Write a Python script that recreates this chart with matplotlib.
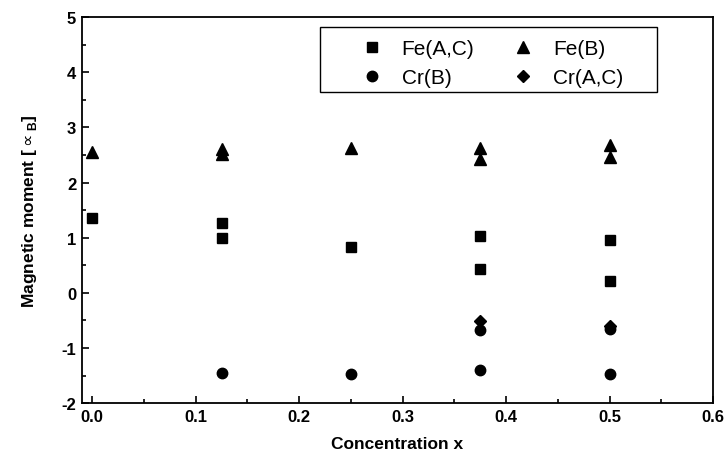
import matplotlib.pyplot as plt
from matplotlib.patches import Rectangle
from matplotlib.ticker import MultipleLocator

plt.rcParams['font.family'] = ['Liberation Sans', 'DejaVu Sans']

# values
fe_ac_x = [0.0, 0.125, 0.125, 0.25, 0.375, 0.375, 0.5, 0.5]
fe_ac_y = [1.35, 1.27, 1.00, 0.83, 1.03, 0.43, 0.95, 0.22]
fe_b_x = [0.0, 0.125, 0.125, 0.25, 0.375, 0.375, 0.5, 0.5]
fe_b_y = [2.55, 2.60, 2.52, 2.62, 2.63, 2.42, 2.68, 2.46]
cr_b_x = [0.125, 0.25, 0.375, 0.375, 0.5, 0.5]
cr_b_y = [-1.45, -1.47, -0.68, -1.40, -0.65, -1.48]
cr_ac_x = [0.375, 0.5]
cr_ac_y = [-0.52, -0.60]

fig, ax = plt.subplots(figsize=(7.24, 4.52), dpi=100)
fig.subplots_adjust(left=0.113, right=0.985, top=0.96, bottom=0.106)

h1, = ax.plot(fe_ac_x, fe_ac_y, 's', color='black', ms=7, label='Fe(A,C)')
h2, = ax.plot(fe_b_x, fe_b_y, '^', color='black', ms=8, label='Fe(B)')
h3, = ax.plot(cr_b_x, cr_b_y, 'o', color='black', ms=7.5, label='Cr(B)')
h4, = ax.plot(cr_ac_x, cr_ac_y, 'D', color='black', ms=6.5, label='Cr(A,C)')

ax.set_xlim(-0.01, 0.6)
ax.set_ylim(-2, 5)
ax.xaxis.set_major_locator(MultipleLocator(0.1))
ax.xaxis.set_minor_locator(MultipleLocator(0.05))
ax.yaxis.set_major_locator(MultipleLocator(1))
ax.yaxis.set_minor_locator(MultipleLocator(0.5))
ax.xaxis.set_major_formatter(plt.FuncFormatter(lambda v, _: f"{v:.1f}"))
ax.yaxis.set_major_formatter(plt.FuncFormatter(lambda v, _: f"{v:.0f}"))
ax.tick_params(which='both', direction='in', width=1.2)
ax.tick_params(which='major', length=5, labelsize=12, pad=4)
ax.tick_params(which='minor', length=3)
for lbl in ax.get_xticklabels() + ax.get_yticklabels():
    lbl.set_fontweight('bold')
for s in ax.spines.values():
    s.set_linewidth(1.3)

ax.set_xlabel("Concentration x", fontsize=12.5, fontweight='bold', labelpad=9)
ax.set_ylabel("Magnetic moment [$\\propto_{\\mathregular{B}}$]", fontsize=12.5,
              fontweight='bold', labelpad=16)

# legend frame drawn separately so its padding matches the original
ax.add_patch(Rectangle((0.377, 0.806), 0.534, 0.168, transform=ax.transAxes,
                       fill=True, facecolor='white', edgecolor='black', lw=1.0, zorder=4))

# matplotlib fills legend columns first, so order handles column by column
leg = ax.legend([h1, h3, h2, h4], ['Fe(A,C)', 'Cr(B)', 'Fe(B)', 'Cr(A,C)'],
                ncol=2, loc='upper left', bbox_to_anchor=(0.426, 0.943), fontsize=15,
                frameon=False, handlelength=2.0, handletextpad=0.44, columnspacing=1.33,
                borderpad=0, borderaxespad=0, labelspacing=0.5, numpoints=1)
leg.set_zorder(5)

plt.savefig("out.png", dpi=100)
